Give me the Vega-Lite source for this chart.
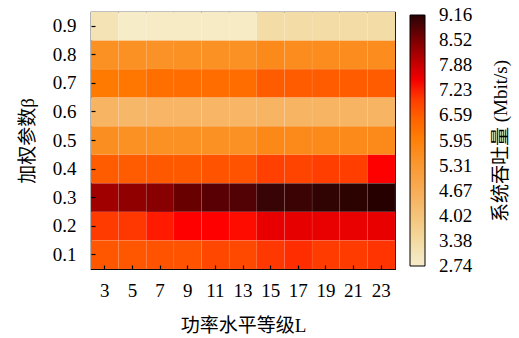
{
  "$schema": "https://vega.github.io/schema/vega-lite/v6.json",
  "width": 304,
  "height": 257,
  "autosize": "none",
  "padding": {"left": 91, "top": 12, "right": 124, "bottom": 69},
  "data": {"values": [
    {"L": 3, "beta": 0.9, "v": 3.1}, {"L": 5, "beta": 0.9, "v": 2.74}, {"L": 7, "beta": 0.9, "v": 2.8}, {"L": 9, "beta": 0.9, "v": 2.8}, {"L": 11, "beta": 0.9, "v": 2.8}, {"L": 13, "beta": 0.9, "v": 2.8}, {"L": 15, "beta": 0.9, "v": 3.3}, {"L": 17, "beta": 0.9, "v": 3.3}, {"L": 19, "beta": 0.9, "v": 3.3}, {"L": 21, "beta": 0.9, "v": 3.3}, {"L": 23, "beta": 0.9, "v": 3.3},
    {"L": 3, "beta": 0.8, "v": 5.55}, {"L": 5, "beta": 0.8, "v": 5.55}, {"L": 7, "beta": 0.8, "v": 5.5}, {"L": 9, "beta": 0.8, "v": 5.55}, {"L": 11, "beta": 0.8, "v": 5.55}, {"L": 13, "beta": 0.8, "v": 5.55}, {"L": 15, "beta": 0.8, "v": 5.7}, {"L": 17, "beta": 0.8, "v": 5.65}, {"L": 19, "beta": 0.8, "v": 5.65}, {"L": 21, "beta": 0.8, "v": 5.65}, {"L": 23, "beta": 0.8, "v": 5.65},
    {"L": 3, "beta": 0.7, "v": 6.1}, {"L": 5, "beta": 0.7, "v": 6.15}, {"L": 7, "beta": 0.7, "v": 6.3}, {"L": 9, "beta": 0.7, "v": 6.35}, {"L": 11, "beta": 0.7, "v": 6.35}, {"L": 13, "beta": 0.7, "v": 6.35}, {"L": 15, "beta": 0.7, "v": 6.6}, {"L": 17, "beta": 0.7, "v": 6.6}, {"L": 19, "beta": 0.7, "v": 6.6}, {"L": 21, "beta": 0.7, "v": 6.6}, {"L": 23, "beta": 0.7, "v": 6.6},
    {"L": 3, "beta": 0.6, "v": 4.45}, {"L": 5, "beta": 0.6, "v": 4.35}, {"L": 7, "beta": 0.6, "v": 4.4}, {"L": 9, "beta": 0.6, "v": 4.4}, {"L": 11, "beta": 0.6, "v": 4.4}, {"L": 13, "beta": 0.6, "v": 4.4}, {"L": 15, "beta": 0.6, "v": 4.45}, {"L": 17, "beta": 0.6, "v": 4.45}, {"L": 19, "beta": 0.6, "v": 4.45}, {"L": 21, "beta": 0.6, "v": 4.45}, {"L": 23, "beta": 0.6, "v": 4.45},
    {"L": 3, "beta": 0.5, "v": 5.6}, {"L": 5, "beta": 0.5, "v": 5.55}, {"L": 7, "beta": 0.5, "v": 5.55}, {"L": 9, "beta": 0.5, "v": 5.55}, {"L": 11, "beta": 0.5, "v": 5.55}, {"L": 13, "beta": 0.5, "v": 5.55}, {"L": 15, "beta": 0.5, "v": 5.75}, {"L": 17, "beta": 0.5, "v": 5.7}, {"L": 19, "beta": 0.5, "v": 5.7}, {"L": 21, "beta": 0.5, "v": 5.7}, {"L": 23, "beta": 0.5, "v": 5.7},
    {"L": 3, "beta": 0.4, "v": 6.6}, {"L": 5, "beta": 0.4, "v": 6.62}, {"L": 7, "beta": 0.4, "v": 6.65}, {"L": 9, "beta": 0.4, "v": 6.65}, {"L": 11, "beta": 0.4, "v": 6.73}, {"L": 13, "beta": 0.4, "v": 6.73}, {"L": 15, "beta": 0.4, "v": 6.97}, {"L": 17, "beta": 0.4, "v": 6.93}, {"L": 19, "beta": 0.4, "v": 6.99}, {"L": 21, "beta": 0.4, "v": 6.99}, {"L": 23, "beta": 0.4, "v": 7.35},
    {"L": 3, "beta": 0.3, "v": 8.2}, {"L": 5, "beta": 0.3, "v": 8.33}, {"L": 7, "beta": 0.3, "v": 8.41}, {"L": 9, "beta": 0.3, "v": 8.7}, {"L": 11, "beta": 0.3, "v": 8.8}, {"L": 13, "beta": 0.3, "v": 8.85}, {"L": 15, "beta": 0.3, "v": 9.02}, {"L": 17, "beta": 0.3, "v": 9.0}, {"L": 19, "beta": 0.3, "v": 9.08}, {"L": 21, "beta": 0.3, "v": 9.1}, {"L": 23, "beta": 0.3, "v": 9.16},
    {"L": 3, "beta": 0.2, "v": 7.02}, {"L": 5, "beta": 0.2, "v": 7.06}, {"L": 7, "beta": 0.2, "v": 7.27}, {"L": 9, "beta": 0.2, "v": 7.35}, {"L": 11, "beta": 0.2, "v": 7.35}, {"L": 13, "beta": 0.2, "v": 7.32}, {"L": 15, "beta": 0.2, "v": 7.65}, {"L": 17, "beta": 0.2, "v": 7.67}, {"L": 19, "beta": 0.2, "v": 7.64}, {"L": 21, "beta": 0.2, "v": 7.64}, {"L": 23, "beta": 0.2, "v": 7.65},
    {"L": 3, "beta": 0.1, "v": 6.67}, {"L": 5, "beta": 0.1, "v": 6.67}, {"L": 7, "beta": 0.1, "v": 6.73}, {"L": 9, "beta": 0.1, "v": 6.73}, {"L": 11, "beta": 0.1, "v": 6.89}, {"L": 13, "beta": 0.1, "v": 6.86}, {"L": 15, "beta": 0.1, "v": 7.06}, {"L": 17, "beta": 0.1, "v": 7.15}, {"L": 19, "beta": 0.1, "v": 7.02}, {"L": 21, "beta": 0.1, "v": 7.02}, {"L": 23, "beta": 0.1, "v": 7.09}
  ]},
  "mark": {"type": "rect", "stroke": "white", "strokeOpacity": 0.1, "strokeWidth": 0.6},
  "encoding": {
    "x": {
      "field": "L", "type": "ordinal",
      "scale": {"paddingInner": 0, "paddingOuter": 0},
      "title": "功率水平等级L",
      "axis": {"labelAngle": 0, "tickSize": -4, "labelPadding": 16, "titlePadding": 16}
    },
    "y": {
      "field": "beta", "type": "ordinal", "sort": "descending",
      "scale": {"paddingInner": 0, "paddingOuter": 0},
      "title": "加权参数β",
      "axis": {"tickSize": -4, "labelPadding": 19, "titlePadding": 15, "format": ".1f"}
    },
    "color": {
      "field": "v", "type": "quantitative",
      "scale": {
        "domain": [2.74, 3.0, 3.3, 4.4, 5.6, 6.1, 6.6, 7.35, 7.7, 8.2, 8.7, 9.16],
        "range": ["#f6ecc8", "#f4e6bd", "#f3dca6", "#f7b565", "#fb8e20", "#ff7a00", "#ff5c00", "#ff0000", "#e40000", "#a00000", "#680000", "#260000"]
      },
      "legend": {
        "title": "系统吞吐量 (Mbit/s)",
        "orient": "none", "legendX": 319, "legendY": 3,
        "direction": "vertical",
        "gradientLength": 251, "gradientThickness": 15,
        "gradientStrokeColor": "black", "gradientStrokeWidth": 1,
        "values": [2.74, 3.382, 4.024, 4.666, 5.308, 5.95, 6.592, 7.234, 7.876, 8.518, 9.16],
        "format": ".2f",
        "labelOverlap": false,
        "labelOffset": 14,
        "titleOrient": "right",
        "titlePadding": 20,
        "encode": {
          "title": {"update": {"angle": {"value": -90}, "baseline": {"value": "top"}}},
          "labels": {"update": {"baseline": {"value": "middle"}}}
        }
      }
    }
  },
  "config": {
    "font": "Liberation Serif, Noto Sans CJK SC",
    "view": {"stroke": "black", "strokeWidth": 1.2},
    "axis": {
      "domain": false, "grid": false,
      "labelFont": "Liberation Serif", "labelFontSize": 19, "labelColor": "black",
      "tickColor": "black", "tickWidth": 1.2,
      "titleFont": "Liberation Serif, Noto Sans CJK SC", "titleFontSize": 19, "titleFontWeight": "normal", "titleColor": "black"
    },
    "legend": {
      "labelFont": "Liberation Serif", "labelFontSize": 19, "labelColor": "black",
      "titleFont": "Liberation Serif, Noto Sans CJK SC", "titleFontSize": 19, "titleFontWeight": "normal", "titleColor": "black"
    }
  }
}
